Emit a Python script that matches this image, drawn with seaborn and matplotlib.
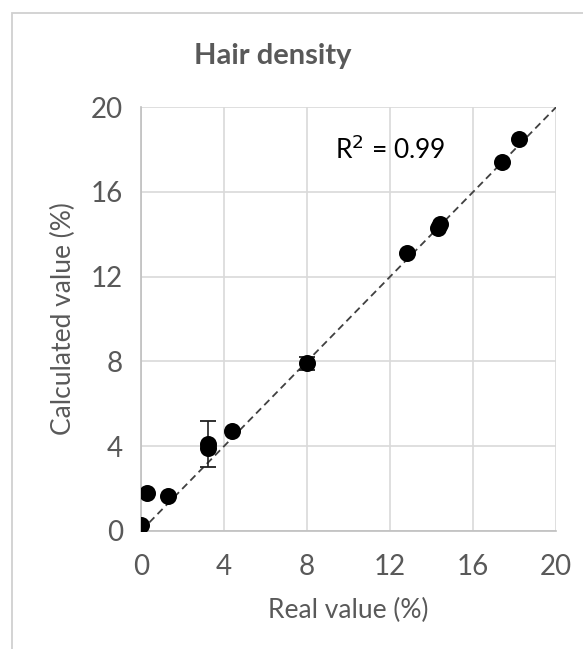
import matplotlib
matplotlib.use("Agg")
import matplotlib.pyplot as plt
import seaborn as sns
import pandas as pd
from matplotlib.patches import Rectangle

# values
real_value = [0.0, 0.3, 1.3, 3.2, 3.2, 4.4, 8.0, 12.8, 14.3, 14.4, 17.4, 18.2]
calc_value = [0.3, 1.8, 1.65, 4.1, 3.9, 4.7, 7.9, 13.1, 14.3, 14.5, 17.4, 18.5]
calc_error = [0.0, 0.0, 0.0, 1.1, 0.0, 0.0, 0.3, 0.0, 0.0, 0.0, 0.0, 0.0]
ticks = [0, 4, 8, 12, 16, 20]
r2_label = "R$^2$ = 0.99"

df = pd.DataFrame({"real": real_value, "calc": calc_value, "err": calc_error})

sns.set_style("white")
plt.rcParams['font.family'] = ['Lato', 'DejaVu Sans']
text_col = "#595959"

fig = plt.figure(figsize=(5.83, 6.49), dpi=100)
ax = fig.add_axes([0.242, 0.182, 0.712, 0.653])

# chart area border (cropped on right/bottom)
fig.patches.append(Rectangle((0.0206, -0.02), 1.0, 1.0, transform=fig.transFigure,
                             fill=False, edgecolor="#d0d0d0", linewidth=1.3))

ax.axline((0, 0), slope=1, color="#404040", linestyle=(0, (4, 2.5)), linewidth=1.3, zorder=2)

err_df = df[df["err"] > 0]
ax.errorbar(err_df["real"], err_df["calc"], yerr=err_df["err"], fmt="none",
            ecolor="#202020", elinewidth=1.2, capsize=6, capthick=1.3, zorder=3)
sns.scatterplot(data=df, x="real", y="calc", ax=ax, color="black", s=150,
                edgecolor="black", linewidth=0, zorder=4)

ax.set_xlim(0, 20)
ax.set_ylim(0, 20)
ax.set_xticks(ticks)
ax.set_yticks(ticks)
ax.grid(True, color="#d9d9d9", linewidth=1.2)
ax.set_axisbelow(True)
for side in ["top", "right"]:
    ax.spines[side].set_visible(False)
for side in ["left", "bottom"]:
    ax.spines[side].set_color("#bfbfbf")
    ax.spines[side].set_linewidth(1.2)
ax.tick_params(axis="both", colors="#bfbfbf", labelcolor=text_col, labelsize=20,
               length=6, width=1.2, direction="out")
ax.tick_params(axis="x", pad=11)
ax.tick_params(axis="y", pad=7)

ax.set_xlabel("Real value (%)", fontsize=19, color=text_col)
ax.set_ylabel("Calculated value (%)", fontsize=19, color=text_col)
ax.xaxis.set_label_coords(0.5, -0.187, transform=ax.transAxes)
ax.yaxis.set_label_coords(-0.187, 0.5, transform=ax.transAxes)
ax.xaxis.label.set_va("center")
ax.yaxis.label.set_va("center")

fig.text(0.468, 0.913, "Hair density", fontsize=21, fontweight="bold",
         color=text_col, ha="center", va="center")

ax.text(9.35, 18.0, r2_label, fontsize=19, color="black", va="center")

fig.savefig("out.png", dpi=100)
